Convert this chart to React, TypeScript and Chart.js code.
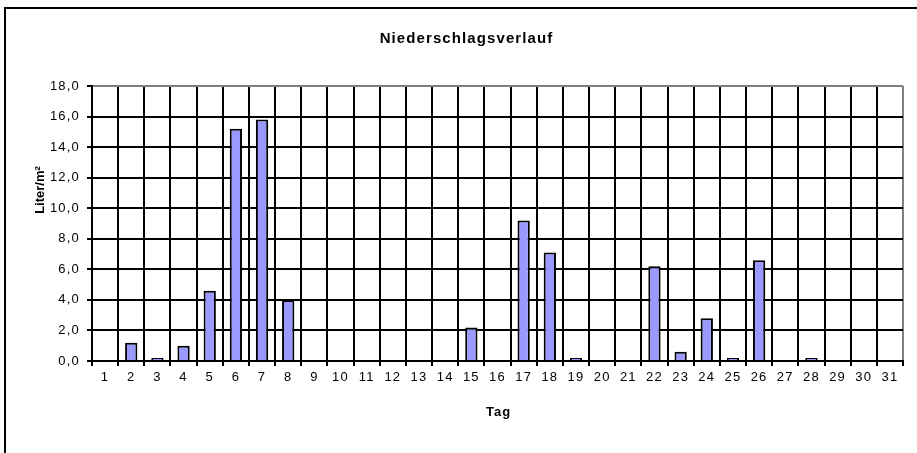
import { useEffect, useRef } from 'react';
import { Chart, registerables } from 'chart.js';

Chart.register(...registerables);

const chartTitle = 'Niederschlagsverlauf';
const xTitle = 'Tag';
const yTitle = 'Liter/m²';
const days = [
  '1', '2', '3', '4', '5', '6', '7', '8', '9', '10', '11', '12', '13', '14', '15', '16',
  '17', '18', '19', '20', '21', '22', '23', '24', '25', '26', '27', '28', '29', '30', '31',
];
const rainfall = [
  0, 1.2, 0.2, 1.0, 4.6, 15.2, 15.8, 4.0, 0, 0, 0, 0, 0, 0, 2.2, 0,
  9.2, 7.1, 0.2, 0, 0, 6.2, 0.6, 2.8, 0.2, 6.6, 0, 0.2, 0, 0, 0,
];
const yMin = 0;
const yMax = 18;
const yStep = 2;

const FONT = '"Liberation Sans", Arial, sans-serif';

const textPlugin = {
  id: 'excelTexts',
  beforeUpdate(chart: any) {
    chart.ctx.letterSpacing = '1.2px';
  },
  beforeDraw(chart: any) {
    chart.ctx.letterSpacing = '1.2px';
  },
  afterDraw(chart: any) {
    const ctx = chart.ctx;
    const ca = chart.chartArea;
    ctx.save();
    ctx.fillStyle = '#000';
    ctx.textAlign = 'center';
    ctx.textBaseline = 'middle';
    ctx.font = `bold 15px ${FONT}`;
    ctx.letterSpacing = '1.1px';
    ctx.fillText(chartTitle, chart.width / 2 + 1, 28);
    ctx.font = `bold 13px ${FONT}`;
    ctx.letterSpacing = '1px';
    ctx.fillText(xTitle, (ca.left + ca.right) / 2 + 1, 401);
    ctx.translate(33, 179);
    ctx.rotate(-Math.PI / 2);
    ctx.letterSpacing = '0px';
    ctx.fillText(yTitle, 0, 0);
    ctx.restore();
  },
};

export default function App() {
  const ref = useRef<HTMLCanvasElement>(null);
  useEffect(() => {
    if (!ref.current) return;
    const chart = new Chart(ref.current, {
      type: 'bar',
      data: {
        labels: days,
        datasets: [
          {
            data: rainfall,
            backgroundColor: '#9999FF',
            borderColor: '#000000',
            borderWidth: 2,
            categoryPercentage: 1,
            barPercentage: 0.47,
          },
        ],
      },
      options: {
        animation: false,
        responsive: false,
        devicePixelRatio: 1,
        layout: { padding: { left: 0, right: 21, top: 75, bottom: 60 } },
        plugins: {
          legend: { display: false },
          title: { display: false },
          tooltip: { enabled: false },
        },
        scales: {
          x: {
            afterFit(scale: any) {
              scale.height = 50;
            },
            grid: {
              offset: true,
              color: (c: any) => (c.type === 'tick' ? '#000' : '#808080'),
              tickColor: '#000',
              lineWidth: 2,
              tickLength: 5,
            },
            border: { color: '#000', width: 2 },
            ticks: {
              color: '#000',
              font: { family: FONT, size: 13 },
              padding: 4,
              maxRotation: 0,
              autoSkip: false,
            },
          },
          y: {
            min: yMin,
            max: yMax,
            afterFit(scale: any) {
              scale.width = 85;
            },
            grid: {
              color: (c: any) => (c.tick && c.tick.value === yMax ? '#808080' : '#000'),
              tickColor: '#000',
              lineWidth: 2,
              tickLength: 5,
            },
            border: { color: '#000', width: 2 },
            ticks: {
              stepSize: yStep,
              color: '#000',
              font: { family: FONT, size: 13 },
              padding: 7,
              callback: (v: any) => Number(v).toFixed(1).replace('.', ','),
            },
          },
        },
      },
      plugins: [textPlugin],
    });
    return () => chart.destroy();
  }, []);

  return (
    <div
      style={{
        position: 'fixed',
        left: 0,
        top: 0,
        width: 917,
        height: 453,
        overflow: 'hidden',
        background: '#fff',
      }}
    >
      <div
        style={{
          position: 'absolute',
          left: 4,
          top: 7,
          width: 960,
          height: 500,
          border: '2px solid #000',
        }}
      />
      <canvas
        ref={ref}
        width={917}
        height={460}
        style={{ position: 'absolute', left: 7, top: 11, display: 'block', width: 917, height: 460 }}
      />
    </div>
  );
}
